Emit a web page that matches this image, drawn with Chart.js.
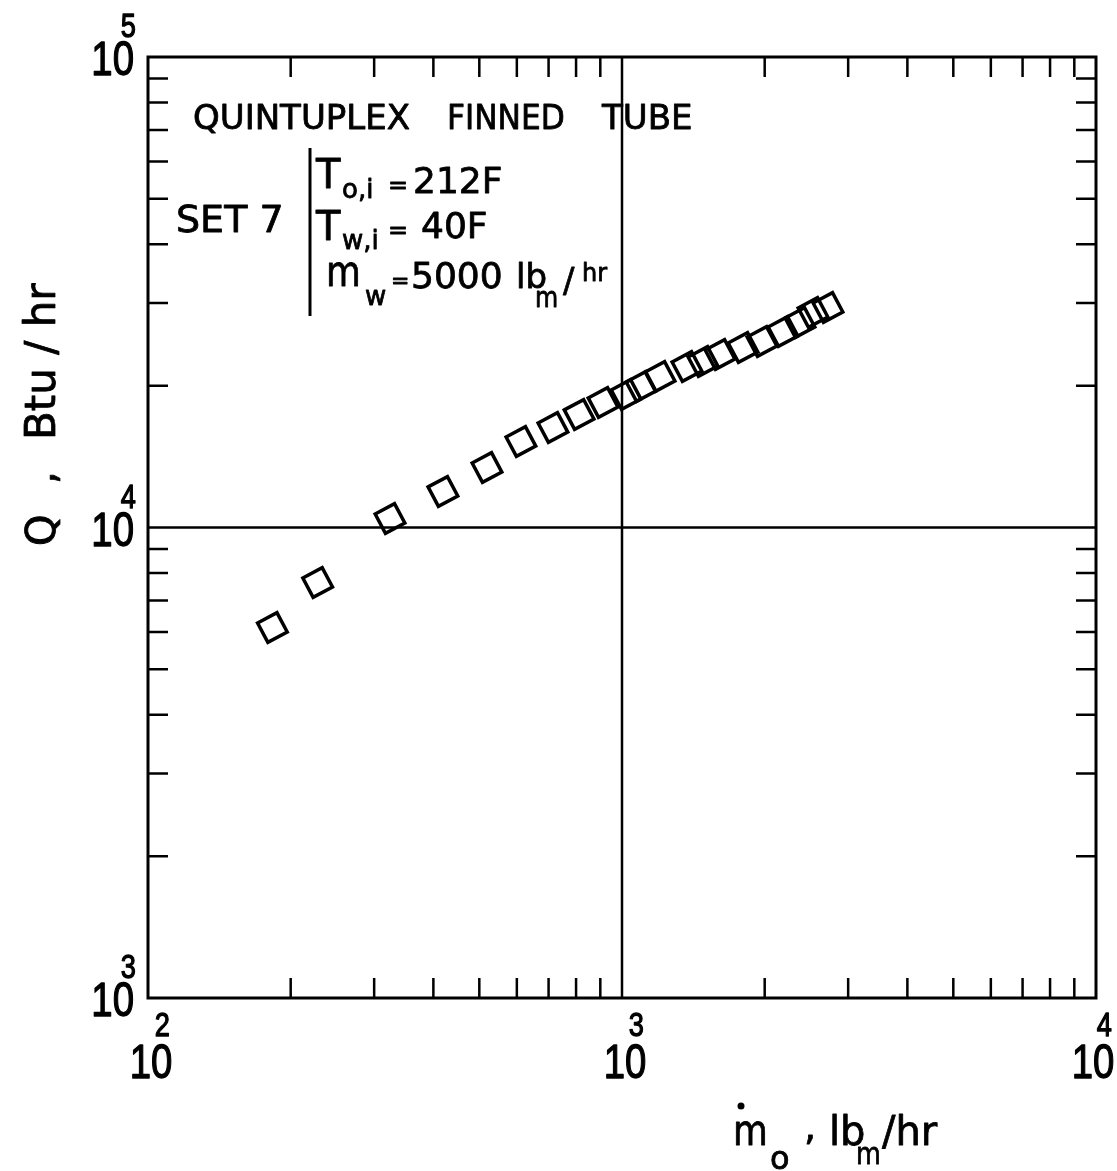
<!DOCTYPE html>
<html>
<head>
<meta charset="utf-8">
<script src="https://cdn.jsdelivr.net/npm/chart.js@4.4.0/dist/chart.umd.min.js"></script>
<style>
html, body { margin: 0; padding: 0; background: #fff; }
#wrap { width: 1117px; height: 1171px; }
</style>
</head>
<body>
<div id="wrap"><canvas id="chart"></canvas></div>
<script>
// Set 7 data: oil mass flow (lbm/hr) vs heat rate Q (Btu/hr)
const massFlow = [183, 228, 324, 419, 519, 612, 715, 812, 912, 1020, 1097, 1203, 1371, 1482, 1610, 1800, 1974, 2186, 2374, 2529, 2720];
const heatRate = [6130, 7640, 10450, 11930, 13410, 15230, 16310, 17390, 18440, 19170, 19940, 20940, 21990, 22530, 23320, 24130, 24850, 26090, 27270, 28640, 29350];

// axis decades and minor tick multipliers
const xDecades = [100, 1000, 10000];
const yDecades = [1000, 10000, 100000];
const minorSteps = [2, 3, 4, 5, 6, 7, 8, 9];

const NUM_FONT = '"Liberation Sans", Arial, sans-serif';
const TXT_FONT = '"DejaVu Sans", sans-serif';

// text with a light outline so it reads like the lettering-guide strokes
function txt(ctx, s, x, y, size, opts) {
    opts = opts || {};
    ctx.save();
    ctx.font = size + 'px ' + (opts.font || TXT_FONT);
    ctx.textAlign = opts.align || 'left';
    ctx.translate(x, y);
    ctx.scale(opts.sx || 1, 1);
    ctx.lineWidth = opts.lw || 0.8;
    ctx.lineJoin = 'round';
    ctx.strokeText(s, 0, 0);
    ctx.fillText(s, 0, 0);
    ctx.restore();
}

// frame, decade grid lines and inward minor ticks
const framePlugin = {
    id: 'frame',
    beforeDatasetsDraw(chart) {
        const ctx = chart.ctx;
        const a = chart.chartArea;
        const xs = chart.scales.x, ys = chart.scales.y;
        const tick = 20;
        ctx.save();
        ctx.strokeStyle = '#000';
        ctx.lineWidth = 3;
        ctx.strokeRect(a.left, a.top, a.right - a.left, a.bottom - a.top);

        ctx.lineWidth = 2.5;
        ctx.beginPath();
        xDecades.slice(1, -1).forEach(v => {
            const px = xs.getPixelForValue(v);
            ctx.moveTo(px, a.top); ctx.lineTo(px, a.bottom);
        });
        yDecades.slice(1, -1).forEach(v => {
            const py = ys.getPixelForValue(v);
            ctx.moveTo(a.left, py); ctx.lineTo(a.right, py);
        });
        xDecades.slice(0, -1).forEach(d => {
            minorSteps.forEach(s => {
                const px = xs.getPixelForValue(d * s);
                ctx.moveTo(px, a.top); ctx.lineTo(px, a.top + tick);
                ctx.moveTo(px, a.bottom); ctx.lineTo(px, a.bottom - tick);
            });
        });
        yDecades.slice(0, -1).forEach(d => {
            minorSteps.forEach(s => {
                const py = ys.getPixelForValue(d * s);
                ctx.moveTo(a.left, py); ctx.lineTo(a.left + tick, py);
                ctx.moveTo(a.right, py); ctx.lineTo(a.right - tick, py);
            });
        });
        ctx.stroke();
        ctx.restore();
    },
    afterDraw(chart) {
        const ctx = chart.ctx;
        const xs = chart.scales.x, ys = chart.scales.y;
        ctx.save();
        ctx.fillStyle = '#000';
        ctx.strokeStyle = '#000';
        ctx.textBaseline = 'alphabetic';
        const num = { font: NUM_FONT, sx: 0.8, lw: 1.3 };

        // decade labels as 10 with superscript exponent
        xDecades.forEach(v => {
            const px = Math.min(xs.getPixelForValue(v) + 3, 1093);
            txt(ctx, '10', px, 1078, 48, Object.assign({ align: 'center' }, num));
            txt(ctx, String(Math.round(Math.log10(v))), px + 19, 1036, 34, Object.assign({ align: 'right' }, num));
        });
        yDecades.forEach(v => {
            const py = ys.getPixelForValue(v);
            txt(ctx, '10', 134, py + 18, 48, Object.assign({ align: 'right' }, num));
            txt(ctx, String(Math.round(Math.log10(v))), 136, py - 20, 34, Object.assign({ align: 'right' }, num));
        });

        // x axis title
        txt(ctx, 'm', 733, 1145, 42, { sx: 0.85 });
        ctx.beginPath(); ctx.arc(741, 1106, 3.5, 0, Math.PI * 2); ctx.fill();
        txt(ctx, 'o', 770, 1169, 32);
        txt(ctx, ',', 804, 1140, 38);
        txt(ctx, 'lb', 829, 1145, 40);
        txt(ctx, 'm', 856, 1164, 30, { sx: 0.85 });
        txt(ctx, '/hr', 882, 1145, 40);

        // y axis title
        ctx.save();
        ctx.translate(55, 546);
        ctx.rotate(-Math.PI / 2);
        txt(ctx, 'Q', 0, 0, 40);
        txt(ctx, ',', 62, 0, 40);
        txt(ctx, 'Btu / hr', 106, 0, 42);
        ctx.restore();

        // annotation block
        txt(ctx, 'QUINTUPLEX', 193, 129, 34);
        txt(ctx, 'FINNED', 447, 129, 34, { sx: 0.92 });
        txt(ctx, 'TUBE', 602, 129, 34);
        txt(ctx, 'SET 7', 176, 232, 38);

        ctx.lineWidth = 3;
        ctx.beginPath(); ctx.moveTo(310, 148); ctx.lineTo(310, 316); ctx.stroke();

        txt(ctx, 'T', 316, 188, 40);
        txt(ctx, 'o,i', 342, 198, 26);
        txt(ctx, '=', 388, 193, 24);
        txt(ctx, '212F', 413, 193, 36);

        txt(ctx, 'T', 316, 240, 40);
        txt(ctx, 'w,i', 342, 249, 26);
        txt(ctx, '=', 388, 238, 24);
        txt(ctx, '40F', 421, 238, 36);

        txt(ctx, 'm', 326, 286, 42, { sx: 0.85 });
        txt(ctx, 'w', 365, 305, 26);
        txt(ctx, '=', 391, 288, 22);
        txt(ctx, '5000', 411, 288, 36);
        txt(ctx, 'lb', 516, 288, 34);
        txt(ctx, 'm', 535, 307, 28, { sx: 0.85 });
        txt(ctx, '/', 563, 292, 34);
        txt(ctx, 'hr', 582, 281, 24);
        ctx.restore();
    }
};

const ctx = document.getElementById('chart').getContext('2d');
new Chart(ctx, {
    type: 'scatter',
    data: {
        datasets: [{
            data: massFlow.map((m, i) => ({ x: m, y: heatRate[i] })),
            pointStyle: 'rect',
            rotation: -28,
            radius: 15.5,
            hoverRadius: 15.5,
            borderWidth: 3.5,
            borderColor: '#000',
            backgroundColor: 'rgba(0,0,0,0)'
        }]
    },
    options: {
        responsive: true,
        maintainAspectRatio: false,
        animation: false,
        layout: { padding: { left: 148, right: 21, top: 57, bottom: 173 } },
        plugins: { legend: { display: false }, tooltip: { enabled: false } },
        scales: {
            x: { type: 'logarithmic', min: 100, max: 10000, display: false },
            y: { type: 'logarithmic', min: 1000, max: 100000, display: false }
        }
    },
    plugins: [framePlugin]
});
</script>
</body>
</html>
